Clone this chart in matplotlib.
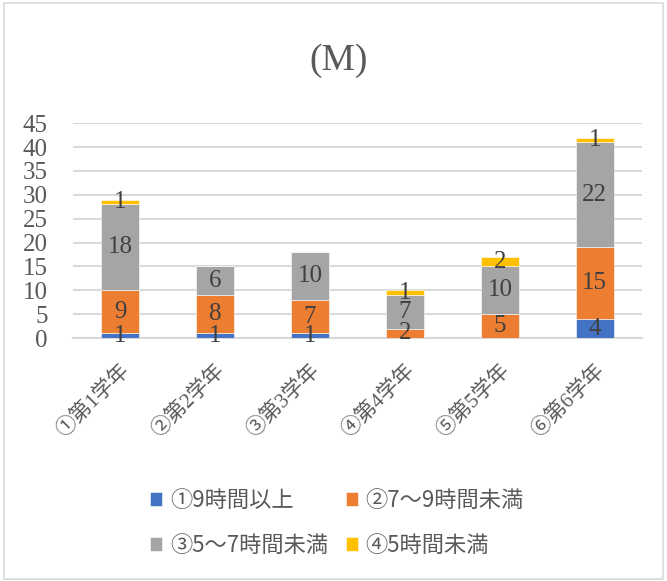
import numpy as np
import matplotlib.pyplot as plt
from matplotlib.patches import Rectangle

categories = ['①第1学年', '②第2学年', '③第3学年', '④第4学年', '⑤第5学年', '⑥第6学年']
series_names = ['①9時間以上', '②7～9時間未満', '③5～7時間未満', '④5時間未満']
over9 = [1, 1, 1, 0, 0, 4]
h7to9 = [9, 8, 7, 2, 5, 15]
h5to7 = [18, 6, 10, 7, 10, 22]
under5 = [1, 0, 0, 1, 2, 1]
colors = ['#4472C4', '#ED7D31', '#A5A5A5', '#FFC000']

serif = ['Liberation Serif', 'Noto Sans CJK JP']
sans = ['Noto Sans CJK JP', 'DejaVu Sans']
txt = '#404040'

fig = plt.figure(figsize=(6.67, 5.81), dpi=100)
fig.patches.append(Rectangle((0.006, 0.004), 0.988, 0.99, transform=fig.transFigure,
                             fill=False, edgecolor='#d9d9d9', linewidth=1.2))
ax = fig.add_axes([0.109, 0.418, 0.854, 0.370])

x = np.arange(len(categories))
bottom = np.zeros(len(categories))
handles = []
for name, vals, c in zip(series_names, [over9, h7to9, h5to7, under5], colors):
    vals = np.array(vals, dtype=float)
    bars = ax.bar(x, vals, 0.4, bottom=bottom, color=c, label=name,
                  edgecolor='white', linewidth=0.4, zorder=3)
    handles.append(bars)
    for xi, b, v in zip(x, bottom, vals):
        if v > 0:
            ax.text(xi, b + v / 2, f'{int(v)}', ha='center', va='center',
                    fontsize=18, color=txt, family=serif, zorder=4)
    bottom += vals

ax.set_xlim(-0.5, len(categories) - 0.5)
ax.set_ylim(0, 45)
ax.set_yticks(np.arange(0, 46, 5))
ax.yaxis.grid(True, color='#d9d9d9', linewidth=1.5, zorder=0)
ax.set_axisbelow(True)
for s in ['top', 'right', 'left']:
    ax.spines[s].set_visible(False)
ax.spines['bottom'].set_color('#d9d9d9')
ax.spines['bottom'].set_linewidth(1.5)
ax.tick_params(axis='both', length=0)
ax.tick_params(axis='y', pad=18)
ax.tick_params(axis='x', pad=16)
ax.set_yticklabels([str(v) for v in range(0, 46, 5)], family=serif, fontsize=18,
                   color='#595959')
ax.set_xticks(x)
ax.set_xticklabels(categories, rotation=45, ha='right', rotation_mode='anchor',
                   family=serif, fontsize=15, color='#595959')

fig.text(0.508, 0.895, '(M)', ha='center', va='center', fontsize=27,
         family=serif, color='#595959')

order = [0, 2, 1, 3]
leg = fig.legend([handles[i] for i in order], [series_names[i] for i in order],
                 loc='center', bbox_to_anchor=(0.505, 0.1), ncol=2, frameon=False,
                 prop={'family': sans, 'size': 16}, handlelength=0.55, handleheight=0.55,
                 handletextpad=0.35, columnspacing=0.8, labelspacing=1.0)
for t in leg.get_texts():
    t.set_color('#595959')

fig.savefig('out.png', dpi=100)
